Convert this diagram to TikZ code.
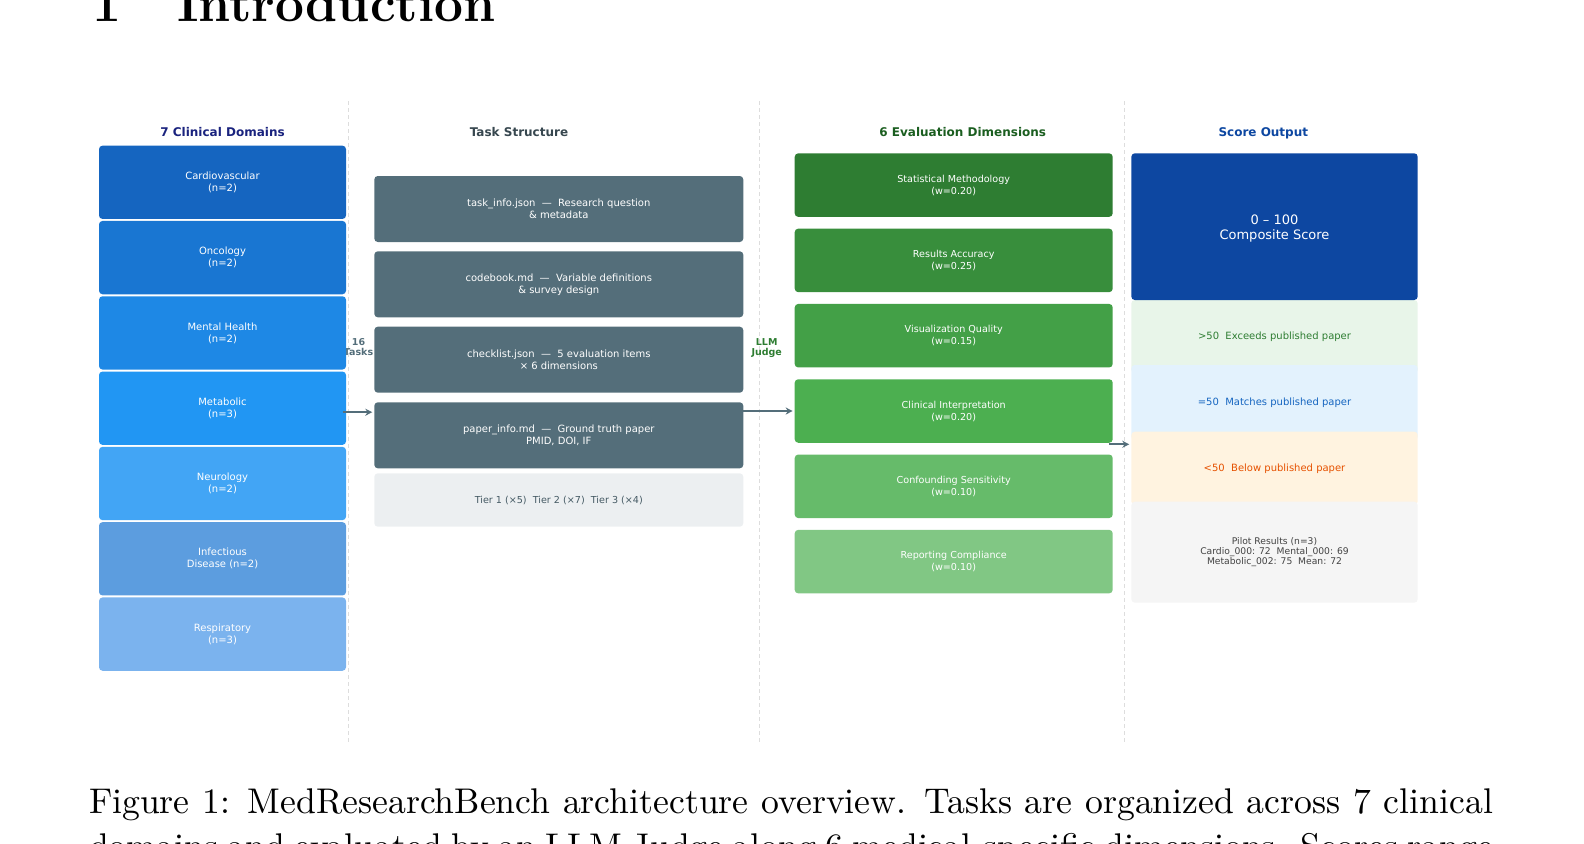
\documentclass[tikz,border=0pt]{standalone}
\usepackage{fontspec}
\newfontfamily\dv{DejaVu Sans}
\newfontfamily\capfont{lmroman10-regular.otf}
\newfontfamily\headfont{lmroman12-bold.otf}
\usetikzlibrary{arrows.meta,calc}
\definecolor{dA}{HTML}{1565C0}
\definecolor{dB}{HTML}{1976D2}
\definecolor{dC}{HTML}{1E88E5}
\definecolor{dD}{HTML}{2196F3}
\definecolor{dE}{HTML}{42A5F5}
\definecolor{dF}{HTML}{5C9DDF}
\definecolor{dG}{HTML}{7BB3EE}
\definecolor{gA}{HTML}{2E7D32}
\definecolor{gB}{HTML}{388E3C}
\definecolor{gC}{HTML}{43A047}
\definecolor{gD}{HTML}{4CAF50}
\definecolor{gE}{HTML}{66BB6A}
\definecolor{gF}{HTML}{81C784}
\definecolor{taskgray}{HTML}{546E7A}
\definecolor{tierbg}{HTML}{ECEFF1}
\definecolor{tiertx}{HTML}{455A64}
\definecolor{navy}{HTML}{1A237E}
\definecolor{slate}{HTML}{37474F}
\definecolor{dgreen}{HTML}{1B5E20}
\definecolor{sblue}{HTML}{0D47A1}
\definecolor{exbg}{HTML}{E8F5E9}
\definecolor{mabg}{HTML}{E3F2FD}
\definecolor{bebg}{HTML}{FFF3E0}
\definecolor{pibg}{HTML}{F5F5F5}
\definecolor{extx}{HTML}{2E7D32}
\definecolor{matx}{HTML}{1565C0}
\definecolor{betx}{HTML}{E65100}
\definecolor{pitx}{HTML}{424242}
\definecolor{sepgray}{HTML}{DDDDDD}
\definecolor{arrgray}{HTML}{546E7A}
\definecolor{judgegreen}{HTML}{2E7D32}
\begin{document}
\begin{tikzpicture}[x=1pt,y=-1pt,
  every node/.style={inner sep=0pt, outer sep=0pt},
  box/.style={rectangle, rounded corners=3.5pt, align=center, text=white,
    font=\dv\fontsize{10}{12}\selectfont},
  dom/.style={box, minimum width=247pt, minimum height=73.3pt},
  task/.style={box, fill=taskgray, minimum width=369pt, minimum height=66pt},
  dim/.style={box, minimum width=318pt, minimum height=63.5pt,
    font=\dv\fontsize{9.6}{12}\selectfont},
  score/.style={box, minimum width=286.4pt},
  hdr/.style={anchor=base, font=\dv\bfseries\fontsize{12}{14}\selectfont},
  sep/.style={draw=sepgray, line width=0.8pt, dash pattern=on 4pt off 3pt},
  arr/.style={draw=arrgray, line width=2pt, -{Stealth[length=7pt,width=7pt]}},
  lbl/.style={align=center, font=\dv\bfseries\fontsize{9.5}{10}\selectfont}
]
\useasboundingbox (0,0) rectangle (1584,843);

% page text (heading and caption)
\node[anchor=base west, font=\headfont\fontsize{51.4}{60}\selectfont] (secnum) at (92,22) {1};
\node[anchor=base west, font=\headfont\fontsize{51.4}{60}\selectfont] (sectitle) at (177,22) {Introduction};
\node[anchor=base west, font=\capfont\fontsize{35.7}{42.8}\selectfont] (cap1) at (89,813.5)
  {\makebox[1404pt][s]{Figure 1: MedResearchBench architecture overview. Tasks are organized across 7 clinical}};
\node[anchor=base west, font=\capfont\fontsize{35.7}{42.8}\selectfont] (cap2) at (89,858)
  {\makebox[1404pt][s]{domains and evaluated by an LLM Judge along 6 medical-specific dimensions. Scores range}};

% separators
\draw[sep] (348.5,101) -- (348.5,742);
\draw[sep] (759.7,101) -- (759.7,742);
\draw[sep] (1124.4,101) -- (1124.4,742);

% headers
\node[hdr, text=navy] (h1) at (222.5,136) {7 Clinical Domains};
\node[hdr, text=slate] (h2) at (519,136) {Task Structure};
\node[hdr, text=dgreen] (h3) at (962.7,136) {6 Evaluation Dimensions};
\node[hdr, text=sblue] (h4) at (1263.3,136) {Score Output};

% side labels
\node[lbl, text=taskgray] (ntasks) at (358.5,346.7) {16\\Tasks};
\node[lbl, text=judgegreen] (judge) at (766.7,348.5) {LLM\\Judge};

% domains
\node[dom, fill=dA] (d1) at (222.5,182.3) {Cardiovascular\\(n=2)};
\node[dom, fill=dB] (d2) at (222.5,257.6) {Oncology\\(n=2)};
\node[dom, fill=dC] (d3) at (222.5,332.9) {Mental Health\\(n=2)};
\node[dom, fill=dD] (d4) at (222.5,408.2) {Metabolic\\(n=3)};
\node[dom, fill=dE] (d5) at (222.5,483.5) {Neurology\\(n=2)};
\node[dom, fill=dF] (d6) at (222.5,558.8) {Infectious\\Disease (n=2)};
\node[dom, fill=dG] (d7) at (222.5,634.1) {Respiratory\\(n=3)};

% task structure
\node[task] (t1) at (558.8,209) {task\_info.json~~—~~Research question\\\& metadata};
\node[task] (t2) at (558.8,284.3) {codebook.md~~—~~Variable definitions\\\& survey design};
\node[task] (t3) at (558.8,359.7) {checklist.json~~—~~5 evaluation items\\× 6 dimensions};
\node[task] (t4) at (558.8,435.3) {paper\_info.md~~—~~Ground truth paper\\PMID, DOI, IF};
\node[box, fill=tierbg, text=tiertx, minimum width=369pt, minimum height=53.4pt,
  font=\dv\fontsize{9.6}{12}\selectfont] (tier) at (558.8,500) {Tier 1 (×5)~~Tier 2 (×7)~~Tier 3 (×4)};

% evaluation dimensions
\node[dim, fill=gA] (e1) at (953.7,185.1) {Statistical Methodology\\(w=0.20)};
\node[dim, fill=gB] (e2) at (953.7,260.4) {Results Accuracy\\(w=0.25)};
\node[dim, fill=gC] (e3) at (953.7,335.7) {Visualization Quality\\(w=0.15)};
\node[dim, fill=gD] (e4) at (953.7,411.0) {Clinical Interpretation\\(w=0.20)};
\node[dim, fill=gE] (e5) at (953.7,486.3) {Confounding Sensitivity\\(w=0.10)};
\node[dim, fill=gF] (e6) at (953.7,561.6) {Reporting Compliance\\(w=0.10)};

% score output
\node[score, fill=exbg, text=extx, minimum height=73pt] (sx) at (1274.5,336.5) {>50~~Exceeds published paper};
\node[score, fill=mabg, text=matx, minimum height=75pt] (sm) at (1274.5,402.5) {=50~~Matches published paper};
\node[score, fill=bebg, text=betx, minimum height=73.2pt] (sb) at (1274.5,468.3) {<50~~Below published paper};
\node[score, fill=pibg, text=pitx, minimum height=101pt,
  font=\dv\fontsize{9.2}{10.2}\selectfont] (sp) at (1274.5,552.2)
  {Pilot Results (n=3)\\Cardio\_000: 72~~Mental\_000: 69\\Metabolic\_002: 75~~Mean: 72};
\node[score, fill=sblue, minimum height=146.7pt] (sc) at (1274.5,226.65) {};
\node[align=center, text=white, font=\dv\fontsize{13}{15}\selectfont] (sctext) at (1274.5,229) {0 – 100\\Composite Score};

% connectors
\draw[arr] ([xshift=-3.5pt,yshift=-4pt]d4.east) -- ([xshift=-2pt,yshift=-4pt]d4.east -| t4.west);
\draw[arr] (t4.east |- e4.west) -- ([xshift=-2pt]e4.west);
\coordinate (sj) at (1109.3,444.3);
\draw[arr] (sj) -- ([xshift=-2pt]sj -| sc.west);
\end{tikzpicture}
\end{document}
